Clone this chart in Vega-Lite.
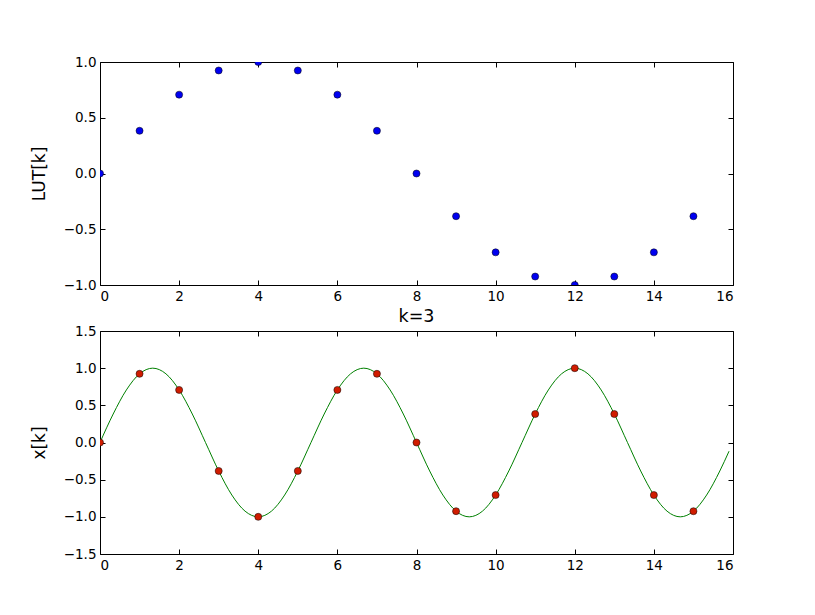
{
  "$schema": "https://vega.github.io/schema/vega-lite/v6.json",
  "padding": {"left": 29, "top": 54, "right": 0, "bottom": 0},
  "background": "white",
  "config": {
    "font": "DejaVu Sans",
    "view": {"stroke": "black", "strokeWidth": 1},
    "axis": {
      "grid": false,
      "domain": false,
      "tickColor": "black",
      "tickWidth": 1,
      "labelColor": "black",
      "titleColor": "black",
      "labelFontSize": 13.5,
      "titleFontSize": 17,
      "titleFontWeight": "normal",
      "tickSize": -5,
      "labelPadding": 9
    },
    "title": {"fontSize": 17.5, "fontWeight": "normal", "color": "black", "offset": -1}
  },
  "datasets": {
    "lut": [
      {"k": 0, "v": 0}, {"k": 1, "v": 0.383}, {"k": 2, "v": 0.707}, {"k": 3, "v": 0.924},
      {"k": 4, "v": 1}, {"k": 5, "v": 0.924}, {"k": 6, "v": 0.707}, {"k": 7, "v": 0.383},
      {"k": 8, "v": 0}, {"k": 9, "v": -0.383}, {"k": 10, "v": -0.707}, {"k": 11, "v": -0.924},
      {"k": 12, "v": -1}, {"k": 13, "v": -0.924}, {"k": 14, "v": -0.707}, {"k": 15, "v": -0.383}
    ],
    "xk": [
      {"k": 0, "v": 0}, {"k": 1, "v": 0.924}, {"k": 2, "v": 0.707}, {"k": 3, "v": -0.383},
      {"k": 4, "v": -1}, {"k": 5, "v": -0.383}, {"k": 6, "v": 0.707}, {"k": 7, "v": 0.924},
      {"k": 8, "v": 0}, {"k": 9, "v": -0.924}, {"k": 10, "v": -0.707}, {"k": 11, "v": 0.383},
      {"k": 12, "v": 1}, {"k": 13, "v": 0.383}, {"k": 14, "v": -0.707}, {"k": 15, "v": -0.924}
    ],
    "curve": [
      {"t": 0, "v": 0}, {"t": 0.333, "v": 0.383}, {"t": 0.667, "v": 0.707}, {"t": 1, "v": 0.924},
      {"t": 1.333, "v": 1}, {"t": 1.667, "v": 0.924}, {"t": 2, "v": 0.707}, {"t": 2.333, "v": 0.383},
      {"t": 2.667, "v": 0}, {"t": 3, "v": -0.383}, {"t": 3.333, "v": -0.707}, {"t": 3.667, "v": -0.924},
      {"t": 4, "v": -1}, {"t": 4.333, "v": -0.924}, {"t": 4.667, "v": -0.707}, {"t": 5, "v": -0.383},
      {"t": 5.333, "v": 0}, {"t": 5.667, "v": 0.383}, {"t": 6, "v": 0.707}, {"t": 6.333, "v": 0.924},
      {"t": 6.667, "v": 1}, {"t": 7, "v": 0.924}, {"t": 7.333, "v": 0.707}, {"t": 7.667, "v": 0.383},
      {"t": 8, "v": 0}, {"t": 8.333, "v": -0.383}, {"t": 8.667, "v": -0.707}, {"t": 9, "v": -0.924},
      {"t": 9.333, "v": -1}, {"t": 9.667, "v": -0.924}, {"t": 10, "v": -0.707}, {"t": 10.333, "v": -0.383},
      {"t": 10.667, "v": 0}, {"t": 11, "v": 0.383}, {"t": 11.333, "v": 0.707}, {"t": 11.667, "v": 0.924},
      {"t": 12, "v": 1}, {"t": 12.333, "v": 0.924}, {"t": 12.667, "v": 0.707}, {"t": 13, "v": 0.383},
      {"t": 13.333, "v": 0}, {"t": 13.667, "v": -0.383}, {"t": 14, "v": -0.707}, {"t": 14.333, "v": -0.924},
      {"t": 14.667, "v": -1}, {"t": 15, "v": -0.924}, {"t": 15.333, "v": -0.707}, {"t": 15.667, "v": -0.383},
      {"t": 15.9, "v": -0.117}
    ]
  },
  "spacing": 46,
  "bounds": "flush",
  "vconcat": [
    {
      "width": 633,
      "height": 223,
      "data": {"name": "lut"},
      "layer": [
        {
          "mark": {"type": "circle", "size": 50, "fill": "#0000f0", "stroke": "black", "strokeWidth": 0.5, "opacity": 1, "clip": true},
          "encoding": {
            "x": {"field": "k", "type": "quantitative", "scale": {"domain": [0, 16], "nice": false},
                  "axis": {"values": [0, 2, 4, 6, 8, 10, 12, 14, 16], "format": "d", "title": null}},
            "y": {"field": "v", "type": "quantitative", "scale": {"domain": [-1, 1], "nice": false, "zero": false},
                  "axis": {"values": [-1, -0.5, 0, 0.5, 1], "format": ".1f", "title": "LUT[k]", "titlePadding": 15}}
          }
        },
        {
          "mark": {"type": "circle", "opacity": 0},
          "encoding": {
            "x": {"field": "k", "type": "quantitative",
                  "axis": {"orient": "top", "labels": false, "values": [0, 2, 4, 6, 8, 10, 12, 14, 16], "title": null}},
            "y": {"field": "v", "type": "quantitative",
                  "axis": {"orient": "right", "labels": false, "values": [-1, -0.5, 0, 0.5, 1], "title": null}}
          }
        }
      ],
      "resolve": {"axis": {"x": "independent", "y": "independent"}}
    },
    {
      "width": 633,
      "height": 223,
      "title": {"text": "k=3"},
      "layer": [
        {
          "data": {"name": "curve"},
          "mark": {"type": "line", "color": "#008000", "strokeWidth": 1, "interpolate": "monotone", "clip": true},
          "encoding": {
            "x": {"field": "t", "type": "quantitative", "scale": {"domain": [0, 16], "nice": false},
                  "axis": {"values": [0, 2, 4, 6, 8, 10, 12, 14, 16], "format": "d", "title": null}},
            "y": {"field": "v", "type": "quantitative", "scale": {"domain": [-1.5, 1.5], "nice": false, "zero": false},
                  "axis": {"values": [-1.5, -1, -0.5, 0, 0.5, 1, 1.5], "format": ".1f", "title": "x[k]", "titlePadding": 15}}
          }
        },
        {
          "data": {"name": "xk"},
          "mark": {"type": "circle", "size": 50, "fill": "#d01c00", "stroke": "black", "strokeWidth": 0.5, "opacity": 1, "clip": true},
          "encoding": {
            "x": {"field": "k", "type": "quantitative", "axis": null},
            "y": {"field": "v", "type": "quantitative", "axis": null}
          }
        },
        {
          "data": {"name": "xk"},
          "mark": {"type": "circle", "opacity": 0},
          "encoding": {
            "x": {"field": "k", "type": "quantitative",
                  "axis": {"orient": "top", "labels": false, "values": [0, 2, 4, 6, 8, 10, 12, 14, 16], "title": null}},
            "y": {"field": "v", "type": "quantitative",
                  "axis": {"orient": "right", "labels": false, "values": [-1.5, -1, -0.5, 0, 0.5, 1, 1.5], "title": null}}
          }
        }
      ],
      "resolve": {"axis": {"x": "independent", "y": "independent"}}
    }
  ]
}
